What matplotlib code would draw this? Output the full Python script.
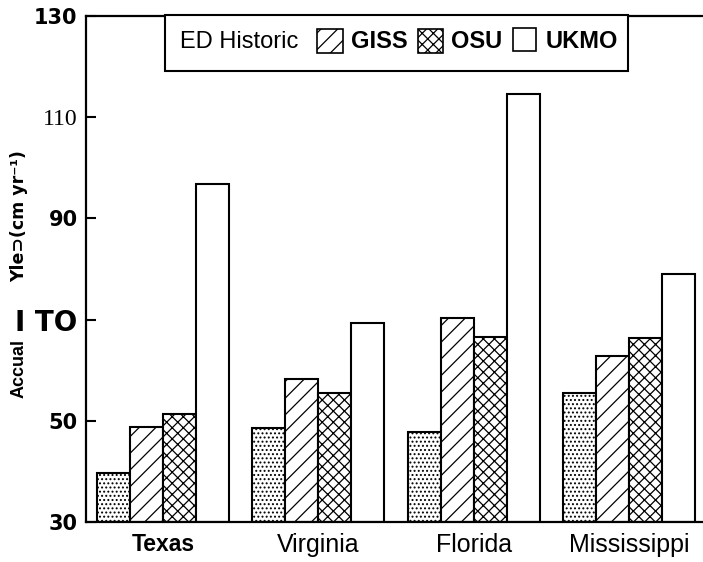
import numpy as np
import matplotlib
matplotlib.use('Agg')
import matplotlib.pyplot as plt
from matplotlib.patches import Rectangle

# Annual yield (cm/yr)
states = ['Texas', 'Virginia', 'Florida', 'Mississippi']
historic = [39.7, 48.6, 47.8, 55.5]
giss = [48.8, 58.3, 70.3, 62.8]
osu = [51.3, 55.5, 66.6, 66.4]
ukmo = [96.8, 69.3, 114.6, 79.0]

series = [historic, giss, osu, ukmo]
names = ['ED Historic', 'GISS', 'OSU', 'UKMO']
hatches = ['....', '//', 'xxx', '']

yticks = [30, 50, 70, 90, 110, 130]
ytick_labels = ['30', '50', 'I TO', '90', '110', '130']

plt.rcParams['hatch.linewidth'] = 0.9
W, H = 703, 562

fig = plt.figure(figsize=(W / 100, H / 100), dpi=100)
ax = fig.add_axes([86 / W, 1 - 522 / H, 1 - 86 / W, (522 - 16) / H])

x = np.arange(len(states))
w = 0.2125
for j, vals in enumerate(series):
    ax.bar(x + (j - 1.5) * w, np.array(vals) - 30, w, bottom=30, color='white',
           edgecolor='black', linewidth=1.5, hatch=hatches[j])

ax.set_ylim(30, 130)
ax.set_xlim(-0.496, 3.476)
ax.spines['right'].set_visible(False)
for s in ['left', 'bottom', 'top']:
    ax.spines[s].set_linewidth(1.6)

ax.set_xticks(x)
ax.set_xticklabels(states, fontsize=18, family='Liberation Sans')
ax.get_xticklabels()[0].set_fontweight('bold')
ax.get_xticklabels()[0].set_fontsize(16.5)
ax.tick_params(axis='x', length=0, pad=8)

ax.set_yticks(yticks)
ax.set_yticklabels(ytick_labels)
ax.tick_params(axis='y', direction='in', length=7, width=1.5, pad=6)
for lab in ax.get_yticklabels():
    t = lab.get_text()
    if t == '110':
        lab.set_fontfamily('Liberation Serif')
        lab.set_fontsize(17)
    elif t == 'I TO':
        lab.set_fontfamily('DejaVu Sans')
        lab.set_fontweight('bold')
        lab.set_fontsize(20)
    else:
        lab.set_fontfamily('DejaVu Sans')
        lab.set_fontweight('bold')
        lab.set_fontsize(15)

# broken y label as it appears in the scan
fig.text(19 / W, 1 - 216 / H, 'Yle\u2283(cm yr\u207b\u00b9)', rotation=90,
         ha='center', va='center', fontsize=12.5, fontweight='bold',
         family='DejaVu Sans')
fig.text(19 / W, 1 - 369 / H, 'Accual', rotation=90, ha='center', va='center',
         fontsize=13, fontweight='bold', family='Liberation Sans')

# legend box drawn by hand
def px(x0, y0, x1, y1):
    return (x0 / W, 1 - y1 / H), (x1 - x0) / W, (y1 - y0) / H

xy, bw, bh = px(165, 15, 628, 71)
fig.patches.append(Rectangle(xy, bw, bh, transform=fig.transFigure,
                             facecolor='white', edgecolor='black', linewidth=1.5,
                             zorder=3))
fig.text(180 / W, 1 - 42 / H, names[0], ha='left', va='center', fontsize=17,
         family='Liberation Sans', zorder=4)
boxes = [(317, 29, 343, 53), (418, 29, 443, 53), (513, 28, 536, 51)]
text_x = [351, 451, 546]
for k in range(3):
    xy, bw, bh = px(*boxes[k])
    fig.patches.append(Rectangle(xy, bw, bh, transform=fig.transFigure,
                                 facecolor='white', edgecolor='black',
                                 linewidth=1.2, hatch=hatches[k + 1], zorder=4))
    fig.text(text_x[k] / W, 1 - 42 / H, names[k + 1], ha='left', va='center',
             fontsize=17, fontweight='bold', family='Liberation Sans', zorder=4)

fig.savefig('out.png', dpi=100)
